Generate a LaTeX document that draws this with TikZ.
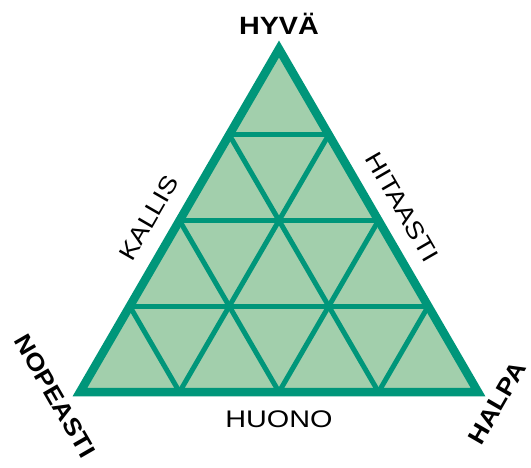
\documentclass[tikz,border=0pt]{standalone}
\usepackage{fontspec}
\usepackage{graphicx}
\setmainfont{Liberation Sans}
\usetikzlibrary{calc}
\definecolor{tfill}{RGB}{162,207,172}
\definecolor{tline}{RGB}{0,150,122}
\newcommand{\wide}[2]{\scalebox{#1}[1]{#2}}
\tikzset{
  outerline/.style={draw=tline,line width=8.5pt,line join=miter},
  innerline/.style={draw=tline,line width=5pt},
  lbl/.style={font=\fontsize{24}{24}\selectfont,inner sep=0pt},
  blbl/.style={font=\fontsize{24}{24}\selectfont\bfseries,inner sep=0pt}
}
\begin{document}
\begin{tikzpicture}[x=1pt,y=-1pt]
\useasboundingbox (0,0) rectangle (531,468);
\coordinate (A) at (279,49);
\coordinate (B) at (80,392);
\coordinate (C) at (478,392);
\fill[tfill] (A) -- (B) -- (C) -- cycle;
\foreach \k in {1,2,3}{
  \draw[innerline] ($(A)!\k/4!(B)$) -- ($(A)!\k/4!(C)$);
  \draw[innerline] ($(C)!\k/4!(A)$) -- ($(C)!\k/4!(B)$);
  \draw[innerline] ($(B)!\k/4!(A)$) -- ($(B)!\k/4!(C)$);
}
\draw[outerline] (A) -- (B) -- (C) -- cycle;
\node[blbl,font=\fontsize{25}{25}\selectfont\bfseries,anchor=base] (hyva) at (279,35) {\wide{1.15}{HYVÄ}};
\node[lbl,anchor=base] (huono) at (279,428) {\wide{1.2}{HUONO}};
\node[lbl,rotate=60] (kallis) at (149,218) {\wide{1.15}{KALLIS}};
\node[lbl,rotate=-60] (hitaasti) at (402,207) {\wide{1.15}{HITAASTI}};
\node[blbl,rotate=-60] (nopeasti) at (55,396) {\wide{1.12}{NOPEASTI}};
\node[blbl,rotate=60] (halpa) at (497,403) {\wide{1.12}{HALPA}};
\end{tikzpicture}
\end{document}
